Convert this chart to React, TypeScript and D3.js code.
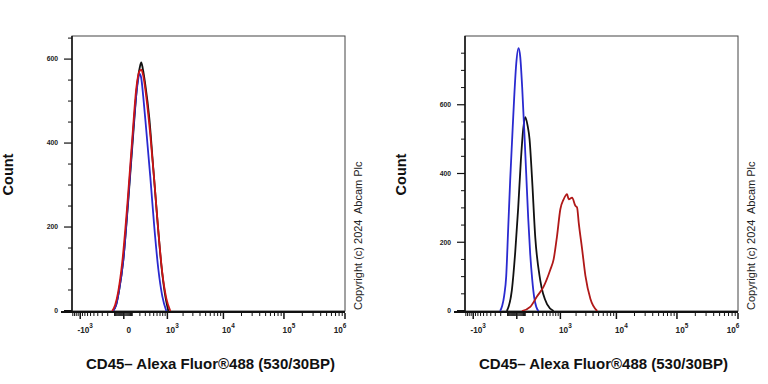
import React from "react";
import * as d3 from "d3";

// x axis (biexponential-like), major ticks and their labels
const xMajor = [-1000, 0, 1e3, 1e4, 1e5, 1e6];
const xMajorBase = ["-10", "0", "10", "10", "10", "10"];
const xMajorExp = ["3", "", "3", "4", "5", "6"];
const yMajor = [0, 200, 400, 600];

// left panel: [intensity, count]
const leftBlack: [number, number][] = [
    [-118, 0], [-80, 15], [-46, 50], [-5, 120], [43, 260], [102, 420], [158, 540], [198, 580],
    [223, 592], [250, 578], [299, 540], [387, 460], [489, 340], [608, 220], [747, 110], [908, 35], [1046, 0],
];
const leftBlue: [number, number][] = [
    [-118, 0], [-80, 15], [-46, 50], [-5, 120], [43, 265], [102, 430], [158, 535], [198, 565],
    [223, 555], [260, 510], [320, 430], [411, 320], [517, 200], [641, 100], [785, 35], [952, 0],
];
const leftRed: [number, number][] = [
    [-132, 0], [-92, 15], [-57, 45], [-15, 115], [33, 250], [90, 410], [144, 530], [190, 570],
    [223, 575], [260, 560], [320, 510], [411, 420], [517, 310], [641, 190], [785, 90], [952, 30], [1147, 0],
];

// right panel: [intensity, count]
const rightBlue: [number, number][] = [
    [-210, 0], [-176, 15], [-146, 45], [-118, 100], [-92, 240], [-68, 380], [-46, 500], [-25, 620],
    [-5, 720], [16, 765], [33, 740], [54, 650], [77, 530], [102, 400], [129, 270], [158, 165],
    [190, 90], [222, 40], [260, 12], [305, 0],
];
const rightBlack: [number, number][] = [
    [-109, 0], [-49, 61], [-15, 170], [13, 300], [40, 439], [66, 530], [90, 564], [120, 540],
    [148, 500], [185, 390], [241, 215], [341, 89], [509, 20], [721, 0],
];
const rightRed: [number, number][] = [
    [51, 0], [158, 12], [273, 42], [419, 71], [608, 120], [721, 150], [853, 218], [998, 296],
    [1163, 325], [1355, 340], [1455, 325], [1688, 330], [1943, 306], [2088, 301], [2234, 257],
    [2572, 180], [2947, 102], [3610, 35], [4719, 0],
];

const panels = [
    {
        x0: 72,
        yMax: 655,
        series: [
            { color: "#111111", points: leftBlack },
            { color: "#2a2ad0", points: leftBlue },
            { color: "#cc1414", points: leftRed },
        ],
    },
    {
        x0: 465,
        yMax: 800,
        series: [
            { color: "#111111", points: rightBlack },
            { color: "#2a2ad0", points: rightBlue },
            { color: "#b01818", points: rightRed },
        ],
    },
];

const PW = 273;
const TOP = 36;
const BOTTOM = 311;
const FONT = "'Liberation Sans', Arial, sans-serif";

// minor tick values along the x axis
const xMinor: number[] = [
    ...d3.range(-1400, -99, 100).filter((v) => v !== -1000),
    ...d3.range(-90, 91, 10).filter((v) => v !== 0),
    ...d3.range(200, 901, 100),
    ...[1e3, 1e4, 1e5].flatMap((d) => d3.range(2, 10).map((k) => k * d)),
];

const Panel: React.FC<{ x0: number; yMax: number; series: { color: string; points: [number, number][] }[] }> = ({
    x0,
    yMax,
    series,
}) => {
    const x = d3.scaleSymlog().constant(240).domain([-1450, 1e6]).range([x0, x0 + PW]);
    const y = d3.scaleLinear().domain([0, yMax]).range([BOTTOM, TOP]);
    const line = d3
        .line<[number, number]>()
        .x((d) => x(d[0]))
        .y((d) => y(d[1]))
        .curve(d3.curveMonotoneX);
    const yMinor = d3.range(0, yMax + 1, 50).filter((v) => v % 200 !== 0);
    const x1 = x0 + PW;

    return (
        <g>
            {/* frame */}
            <rect x={x0} y={TOP} width={PW} height={BOTTOM - TOP} fill="none" stroke="#444" strokeWidth={1} />
            <line x1={x0} x2={x0} y1={TOP} y2={BOTTOM} stroke="#111" strokeWidth={1.5} />

            {/* curves */}
            {series.map((s, i) => (
                <path key={i} d={line(s.points) as string} fill="none" stroke={s.color} strokeWidth={1.8} strokeLinejoin="round" />
            ))}

            {/* y axis */}
            {yMajor.map((v) => (
                <g key={v}>
                    <line x1={x0 - 8} x2={x0} y1={y(v)} y2={y(v)} stroke="#111" strokeWidth={v === 0 ? 2 : 1.2} />
                    <text x={x0 - 14} y={y(v)} dy="0.35em" textAnchor="end" fontSize={6.8} fontWeight="bold" fontFamily={FONT} fill="#222">
                        {v}
                    </text>
                </g>
            ))}
            {yMinor.map((v) => (
                <line key={v} x1={x0 - 4} x2={x0} y1={y(v)} y2={y(v)} stroke="#111" strokeWidth={1} />
            ))}

            {/* x axis */}
            <line x1={x0 - 11} x2={x1} y1={BOTTOM + 1} y2={BOTTOM + 1} stroke="#111" strokeWidth={2} />
            {xMinor.map((v) => (
                <line key={v} x1={x(v)} x2={x(v)} y1={BOTTOM + 2} y2={BOTTOM + 5} stroke="#111" strokeWidth={1} />
            ))}
            {xMajor.map((v, i) => (
                <g key={v}>
                    <line x1={x(v)} x2={x(v)} y1={BOTTOM + 2} y2={BOTTOM + 8} stroke="#111" strokeWidth={1.5} />
                    <text
                        x={Math.min(x(v) + 5, x1 - 5)}
                        y={BOTTOM + 22}
                        textAnchor="middle"
                        fontSize={8.2}
                        fontWeight="bold"
                        fontFamily={FONT}
                        fill="#222"
                    >
                        {xMajorBase[i]}
                        {xMajorExp[i] && (
                            <tspan fontSize={6.4} dy={-5}>
                                {xMajorExp[i]}
                            </tspan>
                        )}
                    </text>
                </g>
            ))}

            {/* titles */}
            <text
                transform={`translate(${x0 - 59},${(TOP + BOTTOM) / 2 + 1}) rotate(-90)`}
                textAnchor="middle"
                fontSize={14.5}
                fontWeight="bold"
                fontFamily={FONT}
                fill="#111"
            >
                Count
            </text>
            <text x={x0 + PW / 2 + 2} y={369} textAnchor="middle" fontSize={15} fontWeight="bold" fontFamily={FONT} fill="#111">
                CD45– Alexa Fluor®488 (530/30BP)
            </text>
            <text
                transform={`translate(${x1 + 17},${BOTTOM - 1}) rotate(-90)`}
                textAnchor="start"
                fontSize={11}
                fontFamily={FONT}
                fill="#222"
                xmlSpace="preserve"
            >
                Copyright (c) 2024  Abcam Plc
            </text>
        </g>
    );
};

export default function App() {
    return (
        <svg width={768} height={384} style={{ position: "absolute", left: 0, top: 0, background: "#fff" }}>
            {panels.map((p, i) => (
                <Panel key={i} {...p} />
            ))}
        </svg>
    );
}
